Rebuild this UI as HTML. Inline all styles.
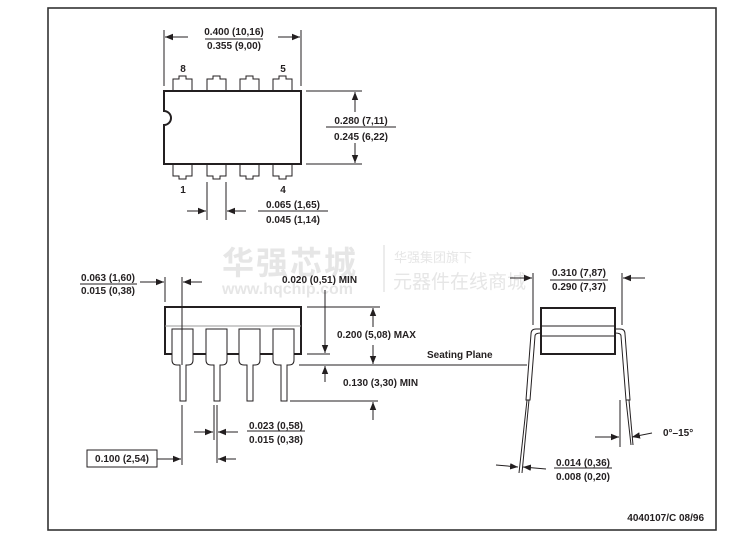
<!DOCTYPE html>
<html><head><meta charset="utf-8"><style>
html,body{margin:0;padding:0;background:#fff;width:749px;height:541px;overflow:hidden}
svg{display:block}
text{font-family:"Liberation Sans",Arial,sans-serif;font-size:10px;font-weight:bold;fill:#231f20}
.wm{font-family:"Liberation Sans","Noto Sans CJK SC",sans-serif;fill:#e6e6e6}
</style></head><body>
<svg width="749" height="541" viewBox="0 0 749 541" xmlns="http://www.w3.org/2000/svg">
<defs>
<marker id="a" viewBox="0 0 10 10" refX="10" refY="5" markerWidth="8" markerHeight="8" markerUnits="userSpaceOnUse" orient="auto"><path d="M0,1 L10,5 L0,9 z" fill="#231f20"/></marker>
</defs>
<rect x="48" y="8" width="668" height="522" fill="none" stroke="#333" stroke-width="1.6"/>

<text class="wm" x="222" y="274" style="font-size:32px;font-weight:bold;letter-spacing:2px">华强芯城</text>
<text class="wm" x="222" y="294" style="font-size:16px;font-weight:bold">www.hqchip.com</text>
<line x1="384" y1="245" x2="384" y2="292" stroke="#e6e6e6" stroke-width="1.5"/>
<text class="wm" x="394" y="262" style="font-size:13px;font-weight:normal">华强集团旗下</text>
<text class="wm" x="393" y="288" style="font-size:19px;font-weight:normal">元器件在线商城</text>

<g stroke="#231f20" fill="none" stroke-width="1">
<path d="M164,91 H301 V164 H164 V125 A7,7 0 0 0 164,111 Z" stroke-width="2" fill="#fff"/>
<g id="pt"><path d="M173,91 V79 H179 V76 H186 V79 H192 V91"/></g>
<use href="#pt" x="34"/><use href="#pt" x="67"/><use href="#pt" x="100"/>
<g id="pb"><path d="M173,164 V176 H179 V179 H186 V176 H192 V164"/></g>
<use href="#pb" x="34"/><use href="#pb" x="67"/><use href="#pb" x="100"/>
<line x1="164" y1="30" x2="164" y2="86"/><line x1="301" y1="30" x2="301" y2="86"/>
<line x1="188" y1="37" x2="165" y2="37" marker-end="url(#a)"/>
<line x1="278" y1="37" x2="300" y2="37" marker-end="url(#a)"/>
<line x1="205" y1="39" x2="263" y2="39"/>
<line x1="306" y1="91" x2="362" y2="91"/><line x1="306" y1="164" x2="362" y2="164"/>
<line x1="355" y1="112" x2="355" y2="92" marker-end="url(#a)"/>
<line x1="355" y1="143" x2="355" y2="163" marker-end="url(#a)"/>
<line x1="326" y1="127" x2="396" y2="127"/>
<line x1="207" y1="182" x2="207" y2="220"/><line x1="226" y1="182" x2="226" y2="220"/>
<line x1="187" y1="211" x2="206" y2="211" marker-end="url(#a)"/>
<line x1="246" y1="211" x2="227" y2="211" marker-end="url(#a)"/>
<line x1="258" y1="211" x2="328" y2="211"/>

<rect x="165" y="307" width="136" height="47" stroke-width="2"/>
<line x1="165" y1="326" x2="301" y2="326" stroke="#999"/>
<g id="sp"><path d="M172,329 H193 V360 Q193,365 188,365 H186 V401 H180 V365 H177 Q172,365 172,360 Z" fill="#fff"/></g>
<use href="#sp" x="34"/><use href="#sp" x="67"/><use href="#sp" x="101"/>
<line x1="182" y1="277" x2="182" y2="365"/>
<line x1="165" y1="277" x2="165" y2="302"/>
<line x1="140" y1="282" x2="164" y2="282" marker-end="url(#a)"/>
<line x1="202" y1="282" x2="183" y2="282" marker-end="url(#a)"/>
<line x1="80" y1="284" x2="137" y2="284"/>
<line x1="325" y1="290" x2="325" y2="353" marker-end="url(#a)"/>
<line x1="307" y1="354" x2="330" y2="354"/>
<line x1="299" y1="365" x2="527" y2="365"/>
<line x1="325" y1="382" x2="325" y2="366" marker-end="url(#a)"/>
<line x1="307" y1="307" x2="380" y2="307"/>
<line x1="373" y1="327" x2="373" y2="308" marker-end="url(#a)"/>
<line x1="373" y1="345" x2="373" y2="364" marker-end="url(#a)"/>
<line x1="290" y1="401" x2="378" y2="401"/>
<line x1="373" y1="420" x2="373" y2="402" marker-end="url(#a)"/>
<line x1="214" y1="405" x2="214" y2="440"/><line x1="217" y1="405" x2="217" y2="463"/>
<line x1="194" y1="432" x2="213" y2="432" marker-end="url(#a)"/>
<line x1="238" y1="432" x2="218" y2="432" marker-end="url(#a)"/>
<line x1="247" y1="431" x2="305" y2="431"/>
<line x1="182" y1="405" x2="182" y2="465"/>
<rect x="87" y="450" width="70" height="17"/>
<line x1="157" y1="459" x2="181" y2="459" marker-end="url(#a)"/>
<line x1="236" y1="459" x2="218" y2="459" marker-end="url(#a)"/>

<rect x="541" y="308" width="74" height="46" stroke-width="2" fill="#fff"/>
<line x1="541" y1="326" x2="615" y2="326"/><line x1="541" y1="336" x2="615" y2="336"/>
<path d="M541,329 H536 Q531,329 531,334 L526,400 H530 L535,336 Q535,333 541,333"/>
<path d="M615,329 H620 Q625,329 625,334 L630,400 H626 L621,336 Q621,333 615,333"/>
<line x1="527" y1="400" x2="519" y2="473"/><line x1="529" y1="400" x2="522" y2="473"/>
<line x1="626" y1="400" x2="631" y2="445"/><line x1="629" y1="400" x2="633" y2="445"/>
<line x1="620" y1="400" x2="620" y2="447"/>
<line x1="533" y1="273" x2="533" y2="325"/><line x1="622" y1="273" x2="622" y2="325"/>
<line x1="510" y1="278" x2="532" y2="278" marker-end="url(#a)"/>
<line x1="645" y1="278" x2="623" y2="278" marker-end="url(#a)"/>
<line x1="550" y1="280" x2="608" y2="280"/>
<line x1="595" y1="437" x2="619" y2="437" marker-end="url(#a)"/>
<line x1="652" y1="433" x2="632" y2="437" marker-end="url(#a)"/>
<line x1="496" y1="465" x2="518" y2="467" marker-end="url(#a)"/>
<line x1="546" y1="469" x2="523" y2="467" marker-end="url(#a)"/>
<line x1="554" y1="468" x2="612" y2="468"/>
</g>

<text x="234" y="35" text-anchor="middle">0.400 (10,16)</text>
<text x="234" y="49" text-anchor="middle">0.355 (9,00)</text>
<text x="183" y="72" text-anchor="middle">8</text>
<text x="283" y="72" text-anchor="middle">5</text>
<text x="183" y="193" text-anchor="middle">1</text>
<text x="283" y="193" text-anchor="middle">4</text>
<text x="361" y="124" text-anchor="middle">0.280 (7,11)</text>
<text x="361" y="140" text-anchor="middle">0.245 (6,22)</text>
<text x="293" y="208" text-anchor="middle">0.065 (1,65)</text>
<text x="293" y="223" text-anchor="middle">0.045 (1,14)</text>
<text x="108" y="281" text-anchor="middle">0.063 (1,60)</text>
<text x="108" y="294" text-anchor="middle">0.015 (0,38)</text>
<text x="282" y="283">0.020 (0,51) MIN</text>
<text x="337" y="338">0.200 (5,08) MAX</text>
<text x="427" y="358">Seating Plane</text>
<text x="343" y="386">0.130 (3,30) MIN</text>
<text x="276" y="429" text-anchor="middle">0.023 (0,58)</text>
<text x="276" y="443" text-anchor="middle">0.015 (0,38)</text>
<text x="122" y="462" text-anchor="middle">0.100 (2,54)</text>
<text x="579" y="276" text-anchor="middle">0.310 (7,87)</text>
<text x="579" y="290" text-anchor="middle">0.290 (7,37)</text>
<text x="663" y="436">0°–15°</text>
<text x="583" y="466" text-anchor="middle">0.014 (0,36)</text>
<text x="583" y="480" text-anchor="middle">0.008 (0,20)</text>
<text x="704" y="521" text-anchor="end">4040107/C 08/96</text>
</svg>
</body></html>
